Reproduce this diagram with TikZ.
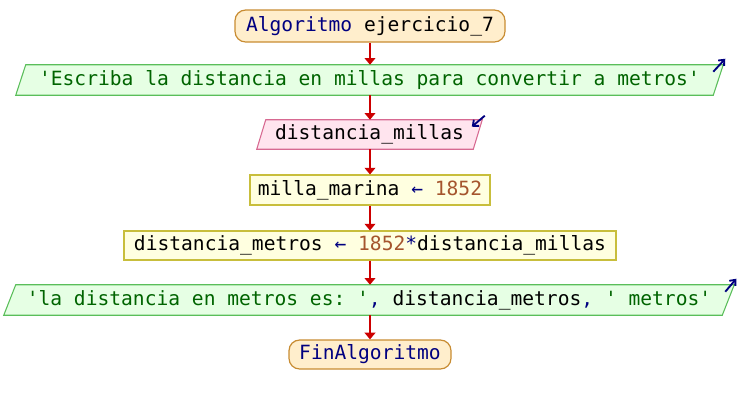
\documentclass[tikz,border=0pt]{standalone}
\usepackage{fontspec}
\setmonofont{DejaVu Sans Mono}
\usetikzlibrary{backgrounds,calc,arrows.meta}

\definecolor{kwblue}{RGB}{0,0,128}
\definecolor{strgreen}{RGB}{0,100,0}
\definecolor{numbrown}{RGB}{165,85,45}
\definecolor{termfill}{RGB}{255,238,204}
\definecolor{termdraw}{RGB}{200,140,50}
\definecolor{outfill}{RGB}{230,255,228}
\definecolor{outdraw}{RGB}{90,190,90}
\definecolor{infill}{RGB}{255,228,238}
\definecolor{indraw}{RGB}{215,105,145}
\definecolor{asgfill}{RGB}{255,255,224}
\definecolor{asgdraw}{RGB}{200,190,60}
\definecolor{flowred}{RGB}{204,0,0}

\newcommand{\kw}[1]{\textcolor{kwblue}{#1}}
\newcommand{\str}[1]{\textcolor{strgreen}{#1}}
\newcommand{\num}[1]{\textcolor{numbrown}{#1}}

\tikzset{
  box/.style={inner sep=0pt, font=\ttfamily\fontsize{14.7}{17}\selectfont},
  terminal/.style={box, draw=termdraw, fill=termfill, line width=0.9pt, rounded corners=8pt},
  assign/.style={box, draw=asgdraw, fill=asgfill, line width=0.8pt},
  iobox/.style={box},
  outshape/.style={draw=outdraw, fill=outfill, line width=0.8pt},
  inshape/.style={draw=indraw, fill=infill, line width=0.8pt},
  flow/.style={draw=flowred, line width=1.6pt, -{Triangle[length=5pt,width=8pt]}},
  iomark/.style={draw=kwblue, line width=1.4pt, -{Straight Barb[length=3.5pt,width=6pt,line width=1.4pt]}},
}

\begin{document}
\begin{tikzpicture}[x=0.75pt,y=-0.75pt]
\useasboundingbox (0,0) rectangle (740,405);

% flowchart blocks
\node[terminal, minimum width={0.75pt*270}, minimum height={0.75pt*32}] (start) at (370,26)
  {\kw{Algoritmo} ejercicio\_7};
\node[iobox, minimum width={0.75pt*697}, minimum height={0.75pt*30}] (out1) at (369.5,80)
  {\str{'Escriba la distancia en millas para convertir a metros'}};
\node[iobox, minimum width={0.75pt*216}, minimum height={0.75pt*29}] (in1) at (369.5,134.5)
  {distancia\_millas};
\node[assign, minimum width={0.75pt*240}, minimum height={0.75pt*30}] (asg1) at (370,190)
  {milla\_marina \kw{←} \num{1852}};
\node[assign, minimum width={0.75pt*492}, minimum height={0.75pt*29}] (asg2) at (370,245.5)
  {distancia\_metros \kw{←} \num{1852}\kw{*}distancia\_millas};
\node[iobox, minimum width={0.75pt*718}, minimum height={0.75pt*30}] (out2) at (369,300)
  {\str{'la distancia en metros es: '}\kw{,} distancia\_metros\kw{,} \str{' metros'}};
\node[terminal, minimum width={0.75pt*162}, minimum height={0.75pt*29}] (finish) at (370,354.5)
  {\kw{FinAlgoritmo}};

% slanted input/output outlines
\begin{scope}[on background layer]
  \path[outshape] ($(out1.north west)+(5,0)$) -- ($(out1.north east)+(5,0)$)
    -- ($(out1.south east)+(-5,0)$) -- ($(out1.south west)+(-5,0)$) -- cycle;
  \path[inshape] ($(in1.north west)+(4.5,0)$) -- ($(in1.north east)+(4.5,0)$)
    -- ($(in1.south east)+(-4.5,0)$) -- ($(in1.south west)+(-4.5,0)$) -- cycle;
  \path[outshape] ($(out2.north west)+(6,0)$) -- ($(out2.north east)+(6,0)$)
    -- ($(out2.south east)+(-6,0)$) -- ($(out2.south west)+(-6,0)$) -- cycle;
\end{scope}

% read/write markers
\draw[iomark] ($(out1.north east)+(-5,7)$) -- ($(out1.north east)+(7,-6)$);
\draw[iomark] ($(in1.north east)+(7,-4)$) -- ($(in1.north east)+(-6,7)$);
\draw[iomark] ($(out2.north east)+(-3,7)$) -- ($(out2.north east)+(8,-6)$);

% control flow, all on the main vertical axis
\draw[flow] (start.south) -- (start.south |- out1.north);
\draw[flow] (start.south |- out1.south) -- (start.south |- in1.north);
\draw[flow] (start.south |- in1.south) -- (asg1.north);
\draw[flow] (asg1.south) -- (asg2.north);
\draw[flow] (asg2.south) -- (asg2.south |- out2.north);
\draw[flow] (asg2.south |- out2.south) -- (finish.north);
\end{tikzpicture}
\end{document}
